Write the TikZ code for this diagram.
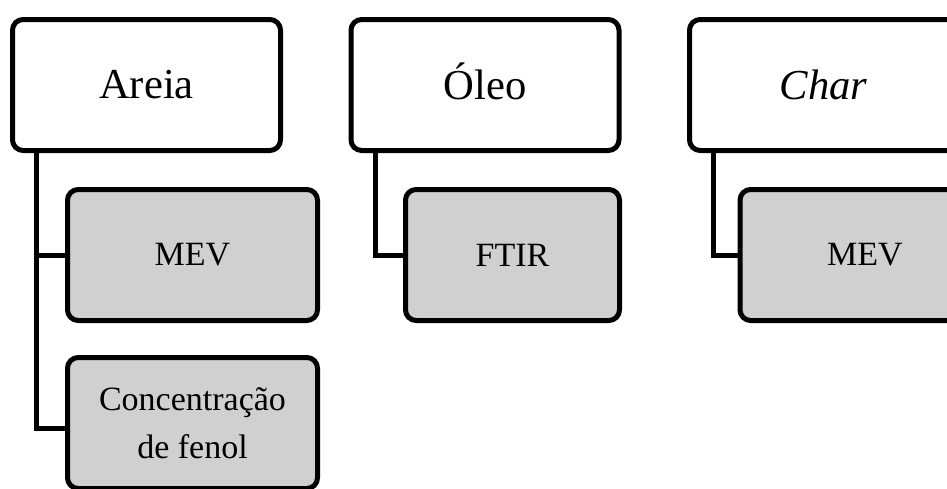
\documentclass[tikz,border=0pt]{standalone}
\usepackage{fontspec}
\setmainfont{Liberation Serif}
\definecolor{boxgray}{RGB}{208,208,208}
\begin{document}
\begin{tikzpicture}[x=0.75pt,y=-0.75pt,line width=3.75pt,
  topbox/.style={draw,rounded corners=8pt,fill=white,minimum width=201pt,
    minimum height=98.25pt,font=\fontsize{32}{38}\selectfont},
  subbox/.style={draw,rounded corners=8pt,fill=boxgray,minimum height=98.25pt,
    align=center,font=\fontsize{25.5}{36}\selectfont}]
  \path[use as bounding box,clip] (0,0) rectangle (947,489);
  % Areia
  \node[topbox] (areia) at (146.5,85) {Areia};
  \node[subbox,minimum width=187.5pt] (mevA) at (192.5,255) {MEV};
  \node[subbox,minimum width=187.5pt] (fenol) at (192.5,423) {Concentração\\de fenol};
  \draw ([xshift=20pt]areia.south west) |- ([yshift=-3.75pt]fenol.west);
  \draw ([xshift=20pt]areia.south west) |- (mevA.west);
  % Oleo
  \node[topbox] (oleo) at (485,85) {\smash{Ó}leo};
  \node[subbox,minimum width=160.5pt] (ftir) at (512.5,255) {FTIR};
  \draw ([xshift=20pt]oleo.south west) |- (ftir.west);
  % Char
  \node[topbox] (char) at (823.5,85) {\textit{Char}};
  \node[subbox,minimum width=187.5pt] (mevC) at (865,255) {MEV};
  \draw ([xshift=20pt]char.south west) |- (mevC.west);
\end{tikzpicture}
\end{document}
